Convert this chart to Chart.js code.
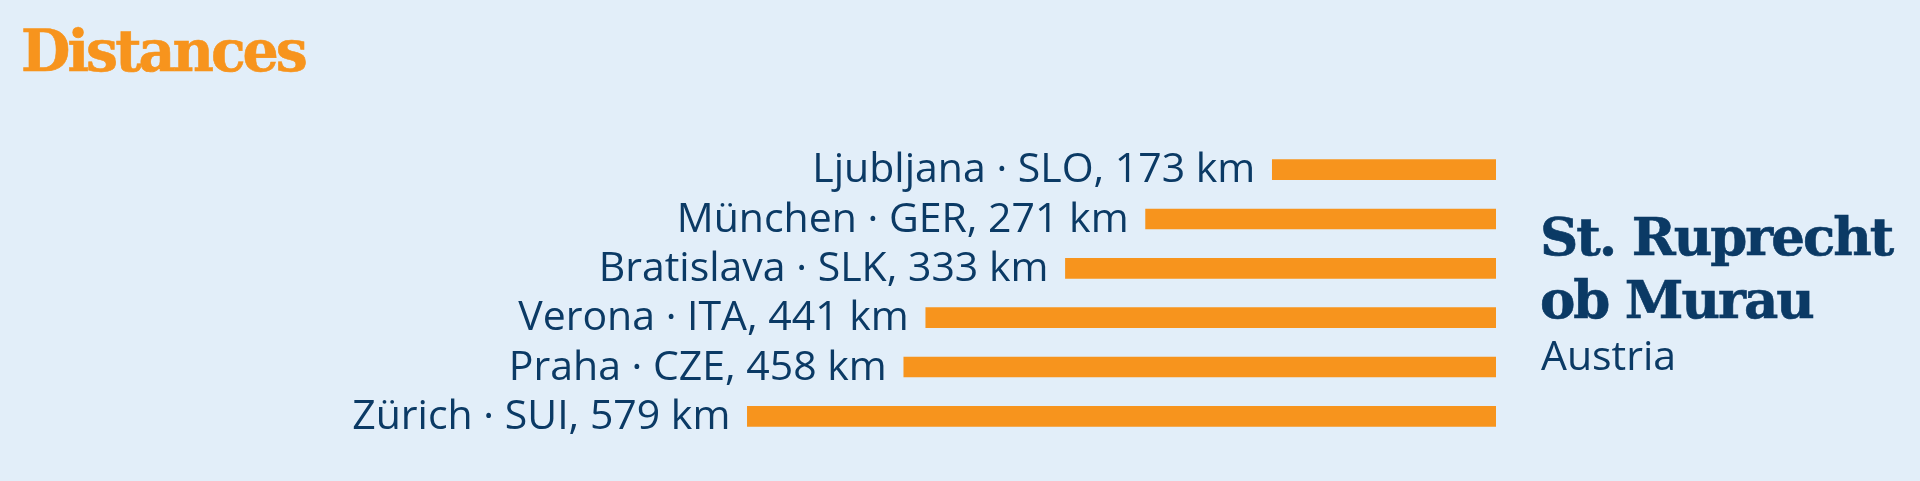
<!DOCTYPE html>
<html>
<head>
<meta charset="utf-8">
<script src="https://cdn.jsdelivr.net/npm/chart.js@4"></script>
<style>
  html, body { margin: 0; padding: 0; background: #e2eef9; }
  #wrap { position: relative; width: 1920px; height: 481px; overflow: hidden; }
  #title {
    position: absolute; left: 21px; top: 16px;
    font-family: "DejaVu Serif"; font-weight: bold; font-size: 57px;
    color: #f7941d; letter-spacing: -3px; line-height: 70px;
    -webkit-text-stroke: 0.6px #f7941d;
  }
  #place {
    position: absolute; left: 1540px; top: 205px;
    color: #0b3a65; font-family: "DejaVu Serif"; font-weight: bold;
    font-size: 53px; line-height: 63px; letter-spacing: -2px;
    -webkit-text-stroke: 0.6px #0b3a65;
  }
  #country {
    position: absolute; left: 1541px; top: 329px;
    color: #0b3a65; font-family: "Open Sans"; font-size: 41px; line-height: 50px;
  }
  canvas { position: absolute; left: 0; top: 0; }
</style>
</head>
<body>
<div id="wrap">
  <canvas id="distChart" width="1920" height="481"></canvas>
  <div id="title">Distances</div>
  <div id="place">St. Ruprecht<br>ob Murau</div>
  <div id="country">Austria</div>
</div>
<script>
// 都市と距離
var cities = ['Ljubljana · SLO', 'München · GER', 'Bratislava · SLK', 'Verona · ITA', 'Praha · CZE', 'Zürich · SUI'];
var distances = [173, 271, 333, 441, 458, 579];
var unit = 'km';

// バーの左端にラベルを書く
var barLabels = {
    id: 'barLabels',
    afterDatasetsDraw: function (chart) {
        var ctx = chart.ctx;
        var meta = chart.getDatasetMeta(0);
        ctx.save();
        ctx.font = '41px "Open Sans"';
        ctx.fillStyle = '#0b3a65';
        ctx.textAlign = 'right';
        ctx.textBaseline = 'alphabetic';
        meta.data.forEach(function (bar, i) {
            ctx.fillText(cities[i] + ', ' + distances[i] + ' ' + unit, bar.x - 17, bar.y + 12.5);
        });
        ctx.restore();
    }
};

var ctx = document.getElementById('distChart');
new Chart(ctx, {
    type: 'bar',
    data: {
        labels: cities,
        datasets: [{
            data: distances,
            backgroundColor: '#f7941d',
            barThickness: 20
        }]
    },
    options: {
        indexAxis: 'y',
        responsive: false,
        animation: false,
        layout: {
            padding: { top: 145, bottom: 40, left: 0, right: 424 }
        },
        plugins: {
            legend: { display: false },
            tooltip: { enabled: false }
        },
        scales: {
            x: { display: false, reverse: true, min: 0, max: 1157 },
            y: { display: false }
        }
    },
    plugins: [barLabels]
});
</script>
</body>
</html>
